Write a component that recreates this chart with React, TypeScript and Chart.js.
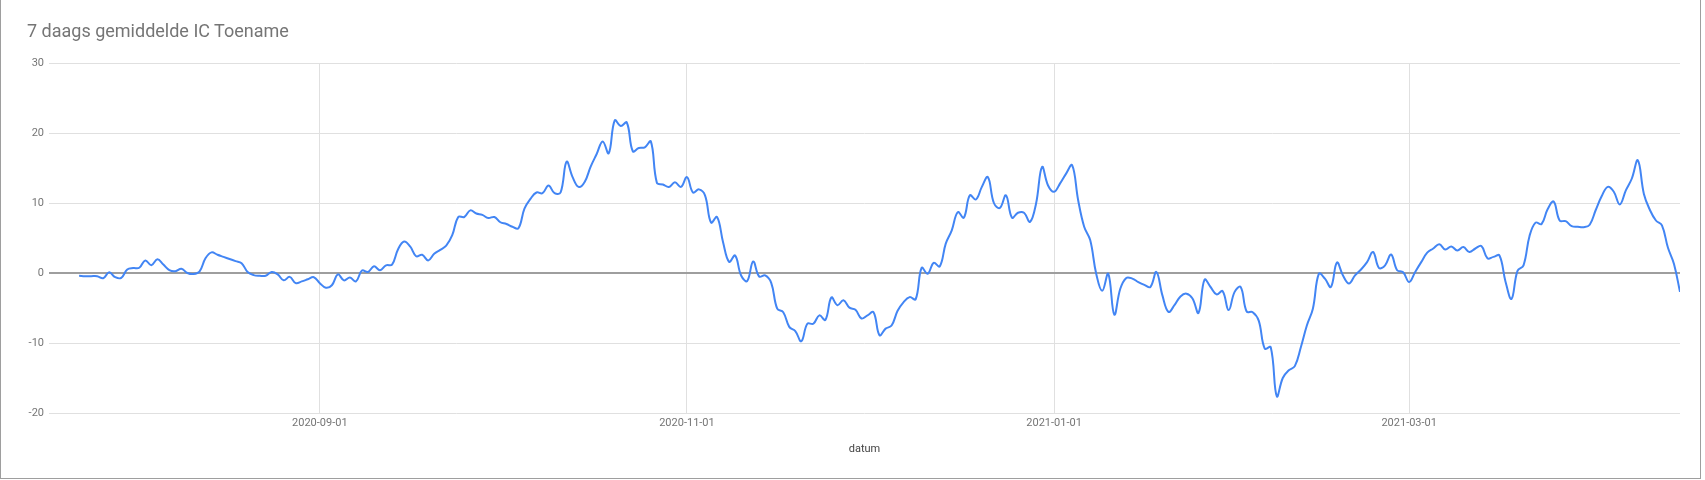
import { useEffect, useRef } from "react";
import { Chart, registerables } from "chart.js";

Chart.register(...registerables);

// 7-day average of daily IC change, one value per day starting at firstDate
const firstDate = "2020-07-23";
const axisStart = "2020-07-18";
const tickDates = ["2020-09-01", "2020-11-01", "2021-01-01", "2021-03-01"];
const yTicks = [-20, -10, 0, 10, 20, 30];
const toename = [
  -0.4, -0.45, -0.45, -0.45, -0.75, 0.1, -0.6, -0.7, 0.5, 0.7,
  0.75, 1.8, 1.1, 1.95, 1.2, 0.4, 0.25, 0.6, 0.0, -0.15,
  0.2, 2.1, 2.95, 2.6, 2.3, 2.0, 1.7, 1.4, 0.15, -0.3,
  -0.4, -0.4, 0.15, -0.2, -1.05, -0.55, -1.45, -1.2, -0.9, -0.6,
  -1.45, -2.1, -1.75, -0.2, -1.05, -0.65, -1.2, 0.35, 0.15, 0.95,
  0.4, 1.1, 1.2, 3.4, 4.5, 3.8, 2.4, 2.6, 1.8, 2.75,
  3.3, 3.9, 5.4, 8.0, 8.0, 8.95, 8.5, 8.3, 7.85, 8.0,
  7.25, 7.0, 6.6, 6.4, 9.2, 10.6, 11.5, 11.4, 12.5, 11.4,
  11.5, 15.9, 13.7, 12.3, 13.0, 15.2, 17.0, 18.8, 17.1, 21.8,
  21.0, 21.5, 17.4, 17.85, 17.95, 18.8, 12.9, 12.65, 12.3, 12.95,
  12.3, 13.7, 11.5, 11.95, 11.1, 7.2, 8.0, 4.4, 1.6, 2.5,
  -0.35, -1.15, 1.65, -0.5, -0.35, -1.4, -5.1, -5.6, -7.7, -8.3,
  -9.75, -7.25, -7.25, -6.05, -6.7, -3.5, -4.6, -3.9, -4.95, -5.25,
  -6.5, -6.05, -5.6, -8.9, -7.95, -7.5, -5.4, -4.15, -3.45, -3.75,
  0.75, -0.1, 1.45, 0.95, 4.2, 6.1, 8.7, 7.9, 11.1, 10.5,
  12.3, 13.7, 10.0, 9.3, 11.1, 7.9, 8.6, 8.6, 7.3, 9.9,
  15.15, 12.5, 11.6, 12.8, 14.2, 15.4, 10.4, 6.6, 4.7, -0.1,
  -2.55, -0.1, -5.95, -2.25, -0.7, -0.8, -1.3, -1.7, -2.0, 0.15,
  -3.2, -5.55, -4.6, -3.35, -2.95, -3.65, -5.7, -0.95, -2.0, -3.05,
  -2.6, -5.3, -2.7, -2.0, -5.5, -5.6, -6.8, -10.8, -10.6, -17.6,
  -15.0, -13.9, -13.3, -10.6, -7.5, -5.1, -0.1, -0.8, -2.0, 1.5,
  -0.35, -1.5, -0.35, 0.5, 1.55, 3.0, 0.7, 1.1, 2.65, 0.4,
  0.1, -1.3, 0.15, 1.55, 2.9, 3.5, 4.1, 3.35, 3.8, 3.2,
  3.7, 3.0, 3.5, 3.85, 2.1, 2.3, 2.5, -1.2, -3.7, 0.3,
  1.1, 5.3, 7.2, 7.0, 9.1, 10.2, 7.5, 7.4, 6.7, 6.6,
  6.55, 6.9, 9.0, 11.0, 12.3, 11.6, 9.8, 11.8, 13.5, 16.1,
  11.3, 9.0, 7.5, 6.8, 3.6, 1.3, -2.7,
];

const DAY = 86400000;
const dayNum = (iso: string) => Date.parse(iso + "T00:00:00Z") / DAY;
const isoDate = (n: number) => new Date(n * DAY).toISOString().slice(0, 10);
const dates = toename.map((_, i) => isoDate(dayNum(firstDate) + i));

const W = 1705;
const H = 480;

const App = () => {
  const canvasRef = useRef<HTMLCanvasElement>(null);

  useEffect(() => {
    const ctx = canvasRef.current?.getContext("2d");
    if (!ctx) return;

    const chart = new Chart(ctx, {
      type: "line",
      data: {
        datasets: [
          {
            label: "7 daags gemiddelde IC Toename",
            data: dates.map((d, i) => ({ x: dayNum(d), y: toename[i] })),
            borderColor: "#4285f4",
            borderWidth: 2,
            pointRadius: 0,
            tension: 0.4,
            fill: false,
          },
        ],
      },
      options: {
        responsive: false,
        animation: false,
        layout: { padding: { left: 0, right: 25, top: 63, bottom: 0 } },
        plugins: {
          legend: { display: false },
          tooltip: { enabled: false },
        },
        scales: {
          x: {
            type: "linear",
            min: dayNum(axisStart),
            max: dayNum(dates[dates.length - 1]),
            afterBuildTicks: (scale) => {
              scale.ticks = tickDates.map((t) => ({ value: dayNum(t) }));
            },
            afterFit: (scale) => {
              scale.height = 67;
            },
            ticks: {
              autoSkip: false,
              maxRotation: 0,
              padding: 4,
              color: "#757575",
              font: { family: "Roboto", size: 11 },
              callback: (v) => isoDate(Number(v)),
            },
            grid: { color: "#e0e0e0", drawTicks: false },
            border: { display: false },
            title: {
              display: true,
              text: "datum",
              color: "#444444",
              font: { family: "Roboto", size: 11 },
              padding: { top: 0, bottom: 24 },
            },
          },
          y: {
            min: -20,
            max: 30,
            afterBuildTicks: (scale) => {
              scale.ticks = yTicks.map((v) => ({ value: v }));
            },
            afterFit: (scale) => {
              scale.width = 49;
            },
            ticks: {
              padding: 5,
              color: "#757575",
              font: { family: "Roboto", size: 11 },
            },
            grid: {
              drawTicks: false,
              color: (c) => (c.tick && c.tick.value === 0 ? "#9e9e9e" : "#e0e0e0"),
              lineWidth: (c) => (c.tick && c.tick.value === 0 ? 2 : 1),
            },
            border: { display: false },
          },
        },
      },
    });

    return () => {
      chart.destroy();
    };
  }, []);

  return (
    <div style={{ position: "absolute", left: 0, top: 0, width: W, height: H, background: "#fff" }}>
      <div
        style={{
          position: "absolute",
          left: 0,
          top: -1,
          width: 1701,
          height: 480,
          boxSizing: "border-box",
          border: "1px solid #9e9e9e",
        }}
      />
      <canvas
        ref={canvasRef}
        width={W}
        height={H}
        style={{ position: "absolute", left: 0, top: 0, width: W, height: H }}
      />
      <div
        style={{
          position: "absolute",
          left: 27,
          top: 22,
          fontFamily: "Roboto",
          fontSize: 18,
          lineHeight: "18px",
          color: "#757575",
          whiteSpace: "nowrap",
        }}
      >
        7 daags gemiddelde IC Toename
      </div>
    </div>
  );
};

export default App;
